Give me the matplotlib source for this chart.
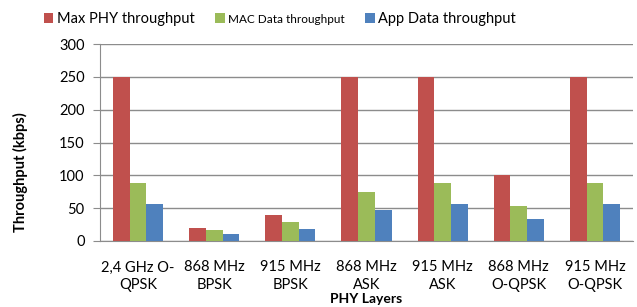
import numpy as np
import matplotlib.pyplot as plt

plt.rcParams['font.family'] = ['Lato', 'DejaVu Sans']

layers = ['2,4 GHz O-\nQPSK', '868 MHz\nBPSK', '915 MHz\nBPSK', '868 MHz\nASK',
          '915 MHz\nASK', '868 MHz\nO-QPSK', '915 MHz\nO-QPSK']
max_phy = [250, 20, 40, 250, 250, 100, 250]
mac_data = [89, 16, 29, 75, 89, 54, 89]
app_data = [56, 10, 18, 47, 56, 34, 56]

fig = plt.figure(figsize=(6.37, 3.07), dpi=100)
ax = fig.add_axes([100/637, 1 - 241/307, (633-100)/637, (241-44)/307])

x = np.arange(len(layers))
w = 0.22
b1 = ax.bar(x - w, max_phy, w, color='#C0504D', label='Max PHY throughput', zorder=3)
b2 = ax.bar(x, mac_data, w, color='#9BBB59', label='MAC Data throughput', zorder=3)
b3 = ax.bar(x + w, app_data, w, color='#4F81BD', label='App Data throughput', zorder=3)

ax.set_xlim(-0.5, len(layers) - 0.5)
ax.set_ylim(0, 300)
ax.set_yticks(range(0, 301, 50))
ax.yaxis.grid(True, color='#8c8c8c', lw=1, zorder=0)
ax.set_xticks(x)
ax.set_xticklabels(layers, fontsize=10.5, linespacing=1.3)
ax.tick_params(axis='x', length=0, pad=14)
ax.tick_params(axis='y', direction='out', length=5, color='#8c8c8c', labelsize=10.5, pad=6)
for s in ['top', 'right']:
    ax.spines[s].set_visible(False)
for s in ['left', 'bottom']:
    ax.spines[s].set_color('#8c8c8c')

ax.set_ylabel('Throughput (kbps)', fontsize=10.5, fontweight='bold')
ax.yaxis.set_label_coords(-0.135, 0.35)
ax.set_xlabel('PHY Layers', fontsize=10, fontweight='bold', labelpad=1)

leg = fig.legend(handles=[b1, b2, b3], loc='center', bbox_to_anchor=(280/637, 1 - 19/307),
                 ncol=3, frameon=False, fontsize=10.5, handlelength=0.65, handleheight=0.65,
                 handletextpad=0.25, columnspacing=1.4)
leg.get_texts()[1].set_fontsize(8.5)

fig.savefig('out.png', dpi=100)
